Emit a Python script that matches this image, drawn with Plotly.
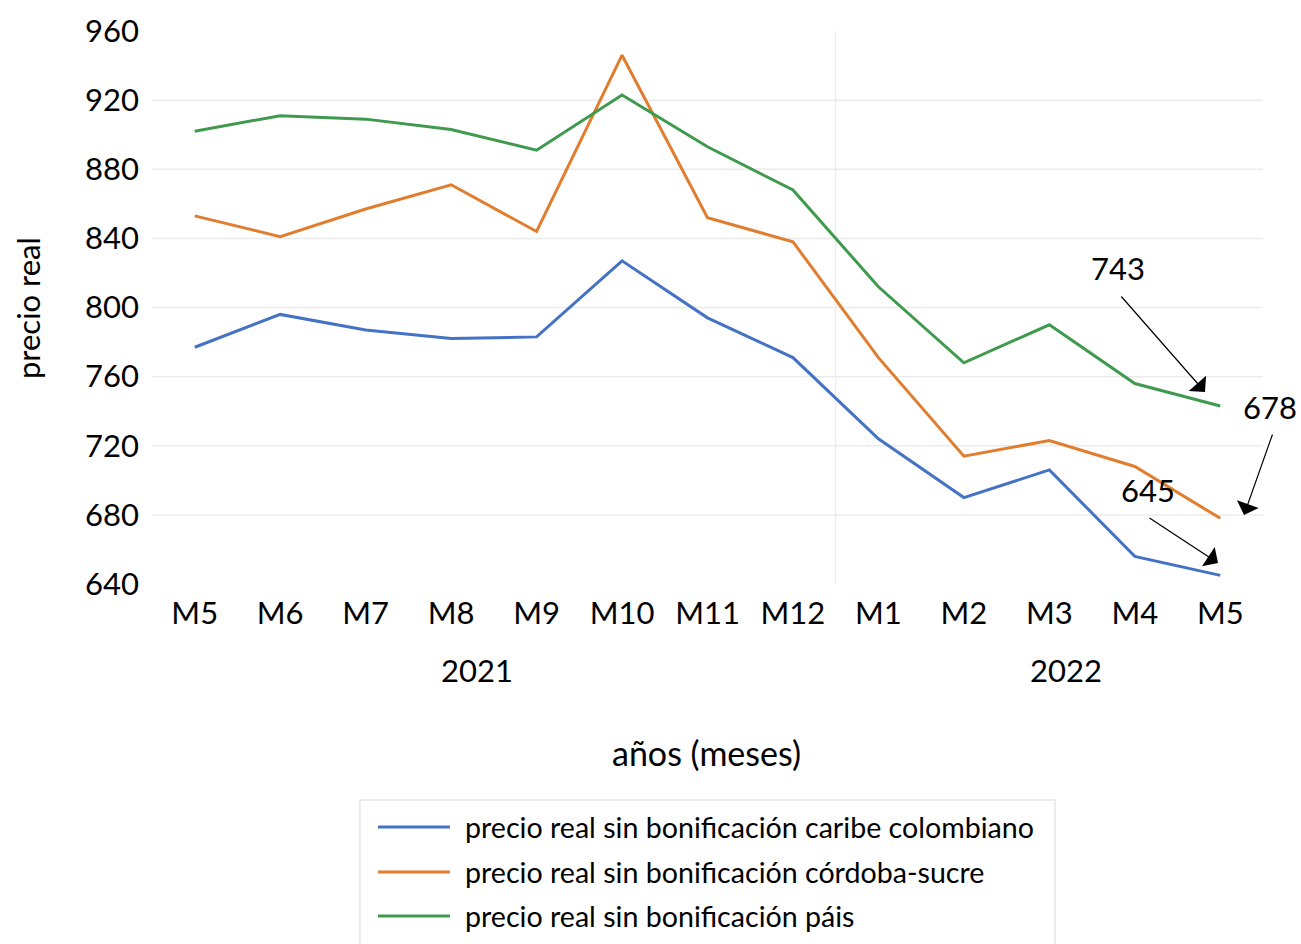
import plotly.graph_objects as go

# ---- data ----
months = ["M5", "M6", "M7", "M8", "M9", "M10", "M11", "M12", "M1", "M2", "M3", "M4", "M5"]
years = ["2021", "2022"]
caribe = [777, 796, 787, 782, 783, 827, 794, 771, 724, 690, 706, 656, 645]
cordoba = [853, 841, 857, 871, 844, 946, 852, 838, 771, 714, 723, 708, 678]
pais = [902, 911, 909, 903, 891, 923, 893, 868, 812, 768, 790, 756, 743]
series_names = [
    "precio real sin bonificación caribe colombiano",
    "precio real sin bonificación córdoba-sucre",
    "precio real sin bonificación páis",
]
colors = ["#4472C4", "#E07D2E", "#3F9A4E"]
y_ticks = [640, 680, 720, 760, 800, 840, 880, 920, 960]

FONT = "Lato"
x_idx = list(range(len(months)))

fig = go.Figure()
for vals, name, col in zip([caribe, cordoba, pais], series_names, colors):
    fig.add_trace(go.Scatter(
        x=x_idx, y=vals, mode="lines", name=name,
        line=dict(color=col, width=3), showlegend=False,
    ))

shapes = []
for v in y_ticks[1:-1]:
    shapes.append(dict(type="line", xref="paper", x0=0, x1=1, yref="y", y0=v, y1=v,
                       line=dict(color="#EBEBEB", width=1.5), layer="below"))
shapes.append(dict(type="line", xref="x", x0=7.5, x1=7.5, yref="paper", y0=0, y1=1,
                   line=dict(color="#E8E8E8", width=1), layer="below"))


def txt(text, x, y, size, angle=0, xanchor="center"):
    return dict(text=text, x=x, y=y, xref="paper", yref="paper", xanchor=xanchor,
                yanchor="middle", textangle=angle, showarrow=False,
                font=dict(size=size, color="black", family=FONT))


annotations = [
    txt("precio real", -0.1116, 0.499, 31, -90),
    txt("años (meses)", 0.4995, -0.3038, 34),
    txt(years[0], 0.2925, -0.1555, 31),
    txt(years[1], 0.8227, -0.1555, 31),
    txt(str(pais[-1]), 0.8695, 0.5714, 31),
    txt(str(cordoba[-1]), 1.0063, 0.3201, 31),
    txt(str(caribe[-1]), 0.8965, 0.170, 31),
]
for hx, hy, ax, ay in [(0.9478, 0.3472, -85, -97), (0.9829, 0.1248, 29, -82), (0.9595, 0.038, -70, -46)]:
    annotations.append(dict(text="", x=hx, y=hy, xref="paper", yref="paper",
                            ax=ax, ay=ay, axref="pixel", ayref="pixel",
                            showarrow=True, arrowhead=1, arrowsize=3.2, arrowwidth=1.2,
                            arrowcolor="black"))

# legend (drawn as box, line samples and labels; box runs past the bottom edge as in the reference)
shapes.append(dict(type="rect", xref="paper", yref="paper", x0=0.1872, x1=0.8128,
                   y0=-0.68, y1=-0.3906, line=dict(color="#D9D9D9", width=1),
                   fillcolor="rgba(0,0,0,0)"))
legend_rows = [-0.4394, -0.5208, -0.6004]
for name, col, ry in zip(series_names, colors, legend_rows):
    shapes.append(dict(type="line", xref="paper", yref="paper", x0=0.2034, x1=0.2682,
                       y0=ry, y1=ry, line=dict(color=col, width=3)))
    annotations.append(txt(name, 0.2799, ry, 28.6, xanchor="left"))

fig.update_layout(
    width=1301, height=944,
    margin=dict(l=152, r=38, t=31, b=360),
    paper_bgcolor="white", plot_bgcolor="white",
    font=dict(family=FONT, color="black"),
    showlegend=False,
    shapes=shapes,
    annotations=annotations,
    xaxis=dict(
        tickmode="array", tickvals=x_idx, ticktext=months,
        range=[-0.5, len(months) - 0.5],
        showgrid=False, zeroline=False, showline=False,
        tickfont=dict(size=31, family=FONT, color="black"),
        ticklabelstandoff=8,
    ),
    yaxis=dict(
        tickmode="array", tickvals=y_ticks,
        range=[640, 960],
        showgrid=False, zeroline=False, showline=False,
        tickfont=dict(size=31, family=FONT, color="black"),
        ticklabelstandoff=12,
    ),
)

fig.write_html(
    "out.html",
    config={"displayModeBar": False},
    post_script="document.body.style.margin='0';document.body.style.overflow='hidden';",
)
